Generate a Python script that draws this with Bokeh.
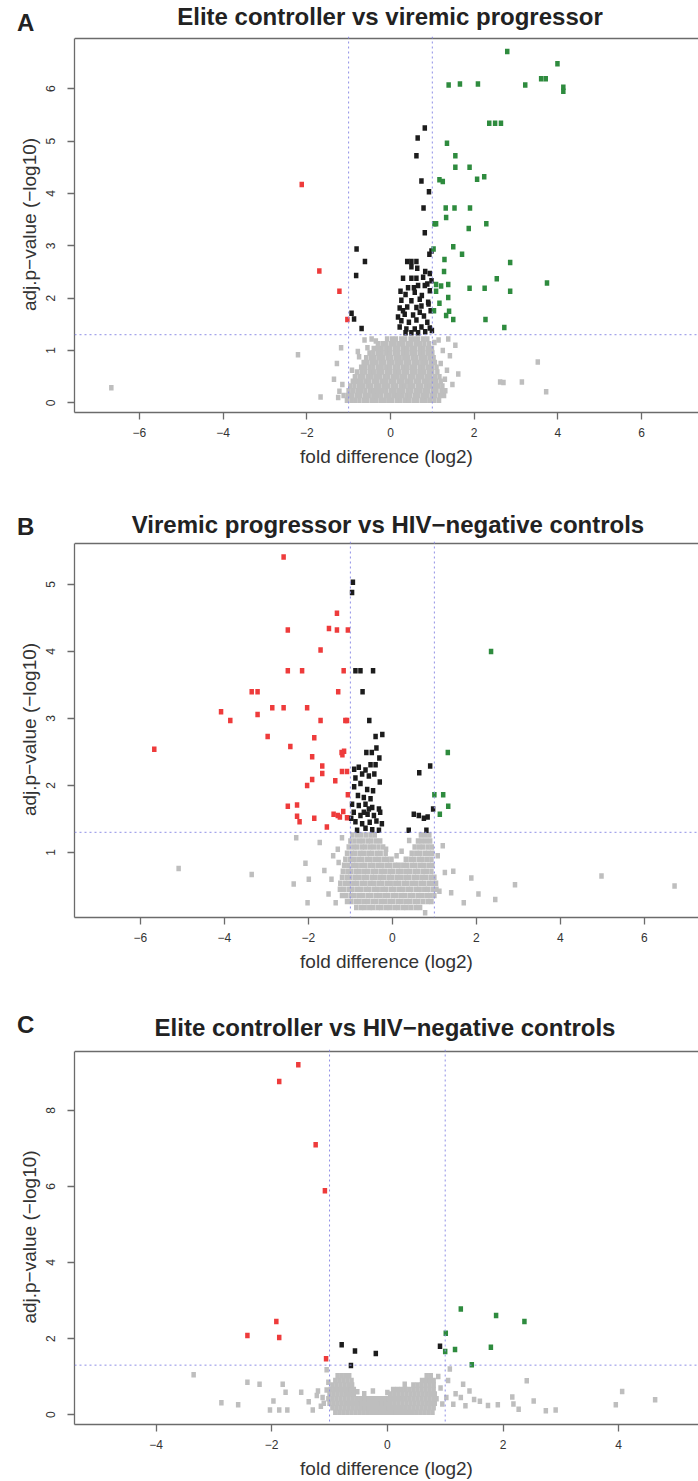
from bokeh.plotting import figure
from bokeh.layouts import column
from bokeh.models import Range1d, Span, Div, FixedTicker
from bokeh.embed import file_html
from bokeh.resources import INLINE

FONT = "Liberation Sans"
AXIS_COLOR = "#6b6b6b"
TEXT_COLOR = "#333333"
GRAY, BLACK, RED, GREEN = "#bebebe", "#1c1c1c", "#ee3b3b", "#2e8b3e"
CUT_COLOR = "#8f8fe6"
P_CUT = 1.30103   # -log10(0.05)
FC_CUT = 1.0

# ---------------- Panel A: Elite controller vs viremic progressor ----------------
A_title = "Elite controller vs viremic progressor"
A_red = [(-2.12, 4.17), (-1.70, 2.52), (-1.22, 2.13), (-1.03, 1.59)]
A_green = [(2.79, 6.71), (3.99, 6.48), (1.39, 6.07), (1.66, 6.09), (2.09, 6.09), (3.22, 6.07),
           (3.60, 6.19), (3.71, 6.19), (4.13, 6.03), (4.13, 5.95), (2.36, 5.34), (2.50, 5.34),
           (2.64, 5.34), (1.35, 4.96), (1.55, 4.72), (1.55, 4.50), (1.89, 4.50), (1.17, 4.26),
           (1.25, 4.23), (2.07, 4.27), (2.24, 4.32), (1.32, 3.72), (1.53, 3.72), (1.90, 3.72),
           (1.33, 3.54), (1.05, 3.42), (1.09, 3.42), (2.29, 3.42), (1.87, 3.33), (1.03, 2.94),
           (1.50, 2.98), (1.71, 2.84), (1.29, 2.74), (2.86, 2.68), (1.28, 2.51), (2.54, 2.37),
           (3.74, 2.29), (1.09, 2.26), (1.21, 2.23), (1.38, 2.26), (1.09, 2.13), (1.89, 2.19),
           (2.25, 2.19), (2.86, 2.13), (1.38, 2.01), (1.17, 1.90), (1.04, 1.76), (1.40, 1.75),
           (1.33, 1.67), (1.50, 1.59), (2.27, 1.59), (2.72, 1.44)]
A_black = [(0.82, 5.25), (0.65, 5.06), (0.62, 4.72), (0.74, 4.24), (0.92, 4.03), (0.79, 3.72),
           (0.82, 3.25), (0.93, 2.84), (0.98, 2.90), (-0.81, 2.94), (-0.61, 2.70), (-0.82, 2.43),
           (-0.93, 1.71), (-0.87, 1.60), (-0.69, 1.42),
           (0.40, 2.70), (0.50, 2.70), (0.62, 2.70), (0.50, 2.60), (0.64, 2.57), (0.83, 2.51),
           (0.94, 2.47), (0.30, 2.38), (0.50, 2.38), (0.62, 2.38), (0.78, 2.40), (0.88, 2.27),
           (0.66, 2.24), (0.82, 2.24), (0.98, 2.33), (0.42, 2.20), (0.24, 2.13), (0.58, 2.11),
           (0.94, 2.14), (0.26, 1.96), (0.50, 1.95), (0.70, 1.98), (0.90, 1.92), (0.22, 1.81),
           (0.40, 1.83), (0.62, 1.82), (0.74, 1.85), (0.91, 1.89), (0.18, 1.64), (0.34, 1.69),
           (0.54, 1.68), (0.80, 1.66), (0.26, 1.57), (0.44, 1.54), (0.62, 1.58), (0.88, 1.54),
           (0.22, 1.45), (0.38, 1.41), (0.58, 1.41), (0.74, 1.45), (0.94, 1.43), (0.50, 1.34),
           (0.66, 1.34), (0.83, 1.36), (0.99, 1.38), (0.36, 1.34), (0.30, 1.76), (0.70, 1.73),
           (0.96, 1.76), (0.56, 2.20), (0.75, 2.05), (0.36, 2.07)]
# non-significant genes: dense core by rows of adj.p, plus scattered ones
A_gray_rows = [
    (0.05, [-1.04, -0.93, -0.84, -0.74, -0.63, -0.55, -0.44, -0.35, -0.24, -0.15, -0.05, 0.04,
            0.15, 0.24, 0.35, 0.44, 0.55, 0.64, 0.75, 0.84, 0.95, 1.05, 1.16]),
    (0.14, [-1.12, -1.01, -0.92, -0.81, -0.72, -0.61, -0.52, -0.41, -0.32, -0.22, -0.11, -0.02,
            0.08, 0.18, 0.27, 0.38, 0.47, 0.58, 0.67, 0.78, 0.87, 0.98, 1.07, 1.18, 1.28]),
    (0.23, [-1.0, -0.9, -0.79, -0.7, -0.6, -0.49, -0.4, -0.3, -0.2, -0.1, 0.01, 0.1, 0.21, 0.3,
            0.41, 0.5, 0.61, 0.7, 0.81, 0.9, 1.01, 1.1, 1.22, 1.31]),
    (0.32, [-0.96, -0.86, -0.75, -0.66, -0.55, -0.46, -0.35, -0.26, -0.15, -0.06, 0.05, 0.14,
            0.25, 0.34, 0.45, 0.54, 0.65, 0.74, 0.85, 0.94, 1.05, 1.14, 1.24]),
    (0.41, [-0.9, -0.8, -0.71, -0.6, -0.51, -0.4, -0.31, -0.2, -0.11, 0.0, 0.09, 0.2, 0.29, 0.4,
            0.49, 0.6, 0.69, 0.8, 0.89, 1.0, 1.09, 1.2]),
    (0.50, [-0.85, -0.74, -0.65, -0.54, -0.45, -0.34, -0.25, -0.14, -0.05, 0.06, 0.15, 0.26,
            0.35, 0.46, 0.55, 0.66, 0.75, 0.86, 0.95, 1.06, 1.17]),
    (0.59, [-0.8, -0.69, -0.6, -0.49, -0.4, -0.29, -0.2, -0.09, 0.0, 0.11, 0.2, 0.31, 0.4, 0.51,
            0.6, 0.71, 0.8, 0.91, 1.0, 1.12]),
    (0.68, [-0.7, -0.61, -0.5, -0.41, -0.3, -0.21, -0.1, -0.01, 0.1, 0.19, 0.3, 0.39, 0.5, 0.59,
            0.7, 0.79, 0.9, 0.99, 1.1]),
    (0.77, [-0.64, -0.55, -0.44, -0.35, -0.24, -0.15, -0.04, 0.05, 0.16, 0.25, 0.36, 0.45, 0.56,
            0.65, 0.76, 0.85, 0.96, 1.06]),
    (0.86, [-0.58, -0.47, -0.38, -0.27, -0.18, -0.07, 0.02, 0.13, 0.22, 0.33, 0.42, 0.53, 0.62,
            0.73, 0.82, 0.93, 1.03]),
    (0.95, [-0.5, -0.41, -0.3, -0.21, -0.1, -0.01, 0.1, 0.19, 0.3, 0.39, 0.5, 0.59, 0.7, 0.79,
            0.9, 1.0]),
    (1.04, [-0.4, -0.3, -0.21, -0.1, -0.01, 0.1, 0.19, 0.3, 0.39, 0.5, 0.59, 0.7, 0.79, 0.9, 0.99]),
    (1.13, [-0.3, -0.19, -0.1, 0.01, 0.1, 0.21, 0.3, 0.41, 0.5, 0.61, 0.7, 0.81, 0.92]),
    (1.22, [-0.08, 0.04, 0.13, 0.26, 0.35, 0.48, 0.57, 0.66, 0.78, 0.88]),
]
A_gray_extra = [(-6.67, 0.29), (-2.21, 0.92), (-1.67, 0.11), (-1.35, 0.45), (-1.28, 0.75),
                (-1.22, 0.22), (-1.18, 1.05), (-0.78, 0.98), (-0.62, 1.20), (1.35, 0.62),
                (1.42, 0.90), (1.48, 0.35), (1.55, 1.10), (1.62, 0.55), (1.38, 1.22),
                (2.62, 0.40), (2.70, 0.39), (3.14, 0.40), (3.52, 0.78), (3.72, 0.21),
                (-1.15, 0.35), (-1.25, 0.10), (-0.92, 0.62), (-0.75, 0.88), (-0.55, 1.05),
                (-0.45, 1.22), (-0.35, 1.18), (1.20, 0.75), (1.25, 1.00), (1.15, 1.20),
                (1.30, 0.45), (1.05, 1.15)]

# ---------------- Panel B: Viremic progressor vs HIV-negative controls ----------------
B_title = "Viremic progressor vs HIV\u2212negative controls"
B_red = [(-2.59, 5.41), (-1.32, 4.57), (-2.49, 4.32), (-1.51, 4.34), (-1.32, 4.32), (-1.06, 4.32),
         (-1.71, 4.02), (-2.49, 3.71), (-2.15, 3.71), (-1.16, 3.71), (-3.35, 3.40), (-3.21, 3.40),
         (-1.29, 3.40), (-4.08, 3.10), (-3.86, 2.97), (-3.21, 3.06), (-2.86, 3.16), (-2.59, 3.16),
         (-2.03, 3.16), (-1.71, 2.97), (-1.12, 2.97), (-1.08, 2.97), (-2.97, 2.73), (-1.86, 2.71),
         (-5.67, 2.54), (-2.43, 2.58), (-1.91, 2.43), (-1.21, 2.49), (-1.15, 2.51), (-1.19, 2.46),
         (-1.67, 2.29), (-1.67, 2.18), (-1.20, 2.21), (-1.08, 2.21), (-1.91, 2.09), (-2.03, 2.00),
         (-1.36, 2.07), (-1.06, 1.86), (-2.49, 1.69), (-2.27, 1.71), (-2.27, 1.54), (-2.21, 1.46),
         (-1.86, 1.51), (-1.56, 1.38), (-1.40, 1.57), (-1.30, 1.55), (-1.17, 1.61), (-1.25, 1.53),
         (-1.08, 1.52)]
B_green = [(2.35, 4.00), (1.32, 2.49), (1.00, 1.86), (1.21, 1.86), (1.33, 1.69), (1.13, 1.57)]
B_black = [(-0.94, 5.03), (-0.96, 4.88), (-0.88, 3.71), (-0.76, 3.71), (-0.46, 3.71), (-0.71, 3.40),
           (-0.55, 2.97), (-0.40, 2.73), (-0.24, 2.76), (-0.62, 2.49), (-0.49, 2.49), (-0.38, 2.56),
           (-0.31, 2.41), (0.90, 2.29), (0.64, 2.19), (0.97, 1.65), (0.51, 1.57), (0.63, 1.55),
           (0.75, 1.51), (0.84, 1.53), (0.39, 1.33), (0.81, 1.33),
           (-0.91, 2.24), (-0.80, 2.27), (-0.64, 2.23), (-0.52, 2.31), (-0.40, 2.31), (-0.88, 2.11),
           (-0.72, 2.17), (-0.56, 2.14), (-0.43, 2.17), (-0.30, 2.05), (-0.91, 1.98), (-0.76, 2.03),
           (-0.60, 1.94), (-0.46, 1.92), (-0.82, 1.85), (-0.68, 1.82), (-0.52, 1.80), (-0.96, 1.72),
           (-0.80, 1.70), (-0.64, 1.72), (-0.48, 1.67), (-0.32, 1.65), (-0.92, 1.60), (-0.76, 1.55),
           (-0.59, 1.57), (-0.44, 1.55), (-0.29, 1.60), (-0.88, 1.46), (-0.72, 1.43), (-0.54, 1.45),
           (-0.38, 1.47), (-0.25, 1.43), (-0.84, 1.33), (-0.64, 1.36), (-0.48, 1.34), (-0.32, 1.33),
           (-0.98, 1.51), (-0.56, 1.65), (-0.68, 1.60)]
B_gray_rows = [
    (0.18, [-0.86, -0.75, -0.66, -0.55, -0.46, -0.35, -0.26, -0.15, -0.06, 0.05, 0.14, 0.25,
            0.34, 0.45, 0.56, 0.66]),
    (0.27, [-1.08, -0.98, -0.87, -0.78, -0.67, -0.58, -0.47, -0.38, -0.27, -0.18, -0.07, 0.02,
            0.13, 0.22, 0.33, 0.42, 0.53, 0.62, 0.73, 0.84, 0.93]),
    (0.36, [-1.2, -1.1, -0.99, -0.9, -0.79, -0.7, -0.59, -0.5, -0.39, -0.3, -0.19, -0.1, 0.01,
            0.1, 0.21, 0.3, 0.41, 0.5, 0.61, 0.7, 0.81, 0.9, 1.0]),
    (0.45, [-1.25, -1.15, -1.04, -0.95, -0.84, -0.75, -0.64, -0.55, -0.44, -0.35, -0.24, -0.15,
            -0.04, 0.05, 0.16, 0.25, 0.36, 0.45, 0.56, 0.65, 0.76, 0.85, 0.96, 1.05]),
    (0.54, [-1.24, -1.13, -1.04, -0.93, -0.84, -0.73, -0.64, -0.53, -0.44, -0.33, -0.24, -0.13,
            -0.04, 0.07, 0.16, 0.27, 0.36, 0.47, 0.56, 0.67, 0.76, 0.87, 0.96, 1.04]),
    (0.63, [-1.2, -1.09, -1.0, -0.89, -0.8, -0.69, -0.6, -0.49, -0.4, -0.29, -0.2, -0.09, 0.0,
            0.11, 0.2, 0.31, 0.4, 0.51, 0.6, 0.71, 0.8, 0.91, 1.0]),
    (0.72, [-1.18, -1.07, -0.98, -0.87, -0.78, -0.67, -0.58, -0.47, -0.38, -0.27, -0.18, -0.07,
            0.02, 0.13, 0.22, 0.33, 0.42, 0.53, 0.62, 0.73, 0.82, 0.93]),
    (0.81, [-1.15, -1.05, -0.94, -0.85, -0.74, -0.65, -0.54, -0.45, -0.34, -0.25, -0.14, -0.05,
            0.06, 0.15, 0.26, 0.35, 0.46, 0.55, 0.66, 0.75, 0.86, 0.95]),
    (0.90, [-1.12, -1.01, -0.92, -0.81, -0.72, -0.61, -0.52, -0.41, -0.32, -0.21, -0.12, -0.02,
            0.32, 0.43, 0.52, 0.63, 0.72, 0.83, 0.93]),
    (0.99, [-1.08, -0.97, -0.88, -0.77, -0.68, -0.57, -0.48, -0.37, -0.28, -0.16, 0.46, 0.57,
            0.66, 0.77, 0.86, 0.95]),
    (1.08, [-1.04, -0.93, -0.84, -0.73, -0.64, -0.53, -0.44, -0.33, -0.22, 0.53, 0.64, 0.73,
            0.84, 0.94]),
    (1.17, [-1.0, -0.9, -0.79, -0.7, -0.59, -0.5, -0.39, -0.29, 0.61, 0.7, 0.8, 0.9]),
    (1.26, [-0.95, -0.84, -0.74, -0.63, -0.52, -0.42, 0.68, 0.78, 0.88]),
]
B_gray_extra = [(-5.09, 0.76), (-3.35, 0.67), (-2.29, 1.22), (-2.35, 0.53), (-2.07, 0.84),
                (-1.99, 0.60), (-2.02, 0.25), (-1.73, 1.15), (-1.62, 0.73), (-1.52, 0.38),
                (-1.41, 0.95), (-1.35, 0.25), (-1.45, 0.60), (1.20, 1.10), (1.25, 0.70),
                (1.45, 0.72), (1.40, 0.40), (1.70, 0.25), (1.88, 0.62), (2.05, 0.38),
                (2.45, 0.30), (2.92, 0.52), (4.98, 0.65), (6.72, 0.50),
                (-1.30, 1.05), (-1.28, 0.85), (-1.20, 1.22), (-0.15, 1.05), (0.10, 0.95),
                (0.22, 1.02), (0.40, 1.18), (1.08, 0.95), (1.12, 0.42), (0.78, 0.10)]

# ---------------- Panel C: Elite controller vs HIV-negative controls ----------------
C_title = "Elite controller vs HIV\u2212negative controls"
C_red = [(-1.54, 9.20), (-1.87, 8.76), (-1.24, 7.10), (-1.08, 5.89), (-1.92, 2.45),
         (-2.42, 2.08), (-1.87, 2.03), (-1.06, 1.47)]
C_black = [(-0.79, 1.84), (-0.56, 1.67), (-0.20, 1.61), (-0.63, 1.29), (0.91, 1.80)]
C_green = [(1.27, 2.78), (1.88, 2.61), (2.37, 2.45), (1.01, 2.14), (1.00, 1.66), (1.17, 1.71),
           (1.79, 1.77), (1.46, 1.31)]
C_gray_rows = [
    (0.06, [-0.9, -0.83, -0.76, -0.69, -0.62, -0.55, -0.48, -0.41, -0.34, -0.27, -0.2, -0.13,
            -0.06, 0.01, 0.08, 0.15, 0.22, 0.29, 0.36, 0.43, 0.5, 0.57, 0.64, 0.71, 0.78]),
    (0.18, [-0.95, -0.88, -0.81, -0.74, -0.67, -0.6, -0.53, -0.46, -0.39, -0.32, -0.25, -0.18,
            -0.11, -0.04, 0.03, 0.1, 0.17, 0.24, 0.31, 0.38, 0.45, 0.52, 0.59, 0.66, 0.73, 0.8]),
    (0.30, [-1.0, -0.93, -0.86, -0.79, -0.72, -0.65, -0.58, -0.51, -0.44, -0.37, -0.3, -0.23,
            -0.16, -0.09, -0.02, 0.05, 0.12, 0.19, 0.26, 0.33, 0.4, 0.47, 0.54, 0.61, 0.68, 0.75,
            0.82]),
    (0.42, [-1.02, -0.95, -0.88, -0.81, -0.74, -0.67, -0.6, -0.53, -0.46, -0.39, -0.32, -0.25,
            -0.18, -0.11, -0.04, 0.03, 0.1, 0.17, 0.24, 0.31, 0.38, 0.45, 0.52, 0.59, 0.66, 0.73,
            0.8, 0.85]),
    (0.54, [-1.0, -0.93, -0.86, -0.79, -0.72, -0.65, -0.58, 0.05, 0.12, 0.19, 0.26, 0.33, 0.4,
            0.47, 0.54, 0.61, 0.68, 0.75, 0.82]),
    (0.66, [-0.98, -0.91, -0.84, -0.77, -0.7, -0.63, -0.58, 0.1, 0.17, 0.24, 0.31, 0.38, 0.45,
            0.52, 0.59, 0.66, 0.73, 0.8]),
    (0.78, [-0.95, -0.88, -0.81, -0.74, -0.67, -0.61, 0.45, 0.52, 0.59, 0.66, 0.73, 0.8]),
    (0.90, [-0.9, -0.83, -0.76, -0.69, -0.62, 0.6, 0.67, 0.74, 0.8]),
    (1.02, [-0.86, -0.79, -0.72, -0.66, 0.68, 0.75]),
]
C_gray_extra = [(-3.35, 1.05), (-2.87, 0.31), (-2.58, 0.26), (-2.42, 0.85), (-2.21, 0.80),
                (-2.03, 0.12), (-1.97, 0.36), (-1.87, 0.12), (-1.81, 0.80), (-1.76, 0.59),
                (-1.73, 0.12), (-1.49, 0.59), (-1.36, 0.34), (-1.29, 0.12), (-1.22, 0.50),
                (-1.20, 0.62), (-1.12, 0.45), (-1.10, 0.30), (-1.15, 0.22), (-1.05, 0.65),
                (-1.05, 1.18), (-1.02, 0.85), (0.95, 0.28), (1.02, 0.45), (1.05, 0.90),
                (1.08, 1.20), (1.14, 0.27), (1.18, 0.55), (1.27, 0.45), (1.31, 0.80),
                (1.35, 0.23), (1.42, 0.62), (1.50, 0.40), (1.60, 0.35), (1.74, 0.24),
                (1.91, 0.26), (2.16, 0.46), (2.18, 0.28), (2.27, 0.14), (2.41, 0.89),
                (2.53, 0.36), (2.74, 0.10), (2.91, 0.12), (3.95, 0.26), (4.06, 0.61),
                (4.63, 0.39), (-0.52, 0.60), (-0.40, 0.55), (-0.25, 0.62), (0.00, 0.58),
                (0.30, 0.80), (0.92, 0.70), (0.88, 1.00)]

X_LABEL = "fold difference (log2)"
Y_LABEL = "adj.p\u2212value (\u2212log10)"

HEADER_H = 36   # band above each plot box holding the panel letter and title
BOX_GAP = 2     # pixels between the top of the frame and the top edge of the box
MARK_W, MARK_H = 4.5, 5.5   # filled-square marker size in screen pixels


def split(pairs):
    return [p[0] for p in pairs], [p[1] for p in pairs]


def gray_points(rows, extra):
    xs, ys = [], []
    for y, row in rows:
        for x in row:
            xs.append(x)
            ys.append(y)
    ex, ey = split(extra)
    return xs + ex, ys + ey


def tick_text(t):
    return str(int(t)).replace("-", "\u2212")


def style_axis(ax, ticks):
    ax.ticker = FixedTicker(ticks=ticks)
    ax.major_label_overrides = {t: tick_text(t) for t in ticks}
    ax.axis_line_color = AXIS_COLOR
    ax.axis_line_width = 1.3
    ax.major_tick_line_color = AXIS_COLOR
    ax.major_tick_line_width = 1.3
    ax.major_tick_in = 0
    ax.major_tick_out = 7
    ax.minor_tick_line_color = None
    ax.major_label_text_font = FONT
    ax.major_label_text_font_size = "12px"
    ax.major_label_text_color = TEXT_COLOR
    ax.axis_label_text_font = FONT
    ax.axis_label_text_font_size = "19px"
    ax.axis_label_text_font_style = "normal"
    ax.axis_label_text_color = TEXT_COLOR


def header(letter, title, letter_top, title_top, title_cx):
    span = ("position:absolute;font-size:24px;line-height:24px;white-space:nowrap;")
    html = (f'<div style="position:relative;width:698px;height:{HEADER_H}px;'
            f"font-family:'{FONT}';font-weight:bold;color:#222222;\">"
            f'<span style="{span}left:17px;top:{letter_top}px;">{letter}</span>'
            f'<span style="{span}left:{title_cx}px;top:{title_top}px;'
            f'transform:translateX(-50%);">{title}</span></div>')
    return Div(text=html, width=698, height=HEADER_H, margin=0)


def panel(gray, black, red, green, xr, box, xticks, yticks, height, left, box_h):
    y0, y1 = box
    scale = box_h / (y1 - y0)
    p = figure(width=698, height=height, x_range=Range1d(*xr),
               y_range=Range1d(y0, y1 + BOX_GAP / scale),
               output_backend="svg", toolbar_location=None,
               min_border_left=left, min_border_right=0, min_border_top=0,
               min_border_bottom=height - box_h - BOX_GAP)
    p.outline_line_color = None
    p.grid.visible = False
    p.background_fill_color = "white"
    p.border_fill_color = "white"

    style_axis(p.xaxis[0], xticks)
    p.xaxis[0].axis_label = X_LABEL
    p.xaxis[0].major_label_standoff = 8
    p.xaxis[0].axis_label_standoff = 6

    style_axis(p.yaxis[0], yticks)
    p.yaxis[0].bounds = (y0, y1)
    p.yaxis[0].axis_label = Y_LABEL
    p.yaxis[0].major_label_orientation = "vertical"
    p.yaxis[0].major_label_standoff = 12
    p.yaxis[0].axis_label_standoff = 4

    # top edge of the plot box
    p.add_layout(Span(location=y1, dimension="width", line_color=AXIS_COLOR, line_width=1.3))

    # significance cut-offs
    p.add_layout(Span(location=P_CUT, dimension="width", line_color=CUT_COLOR,
                      line_dash="2 3", line_width=1))
    for loc in (-FC_CUT, FC_CUT):
        p.add_layout(Span(location=loc, dimension="height", line_color=CUT_COLOR,
                          line_dash="2 3", line_width=1))

    for (xs, ys), color in ((gray, GRAY), (split(black), BLACK),
                            (split(red), RED), (split(green), GREEN)):
        p.rect(x=xs, y=ys, width=MARK_W, height=MARK_H, width_units="screen",
               height_units="screen", fill_color=color, line_color=None)
    return p


ha = header("A", A_title, letter_top=11, title_top=5, title_cx=390)
pa = panel(gray_points(A_gray_rows, A_gray_extra), A_black, A_red, A_green,
           (-7.55, 7.36), (-0.185, 6.96), [-6, -4, -2, 0, 2, 4, 6], [0, 1, 2, 3, 4, 5, 6],
           height=469, left=72, box_h=374)
hb = header("B", B_title, letter_top=10, title_top=8, title_cx=388)
pb = panel(gray_points(B_gray_rows, B_gray_extra), B_black, B_red, B_green,
           (-7.57, 7.29), (0.03, 5.61), [-6, -4, -2, 0, 2, 4, 6], [1, 2, 3, 4, 5],
           height=472, left=74, box_h=374)
hc = header("C", C_title, letter_top=0, title_top=3, title_cx=385)
pc = panel(gray_points(C_gray_rows, C_gray_extra), C_black, C_red, C_green,
           (-5.41, 5.38), (-0.26, 9.55), [-4, -2, 0, 2, 4], [0, 2, 4, 6, 8],
           height=432, left=72, box_h=373)

layout = column(ha, pa, hb, pb, hc, pc, spacing=0)
open("out.html", "w").write(file_html(layout, INLINE))
